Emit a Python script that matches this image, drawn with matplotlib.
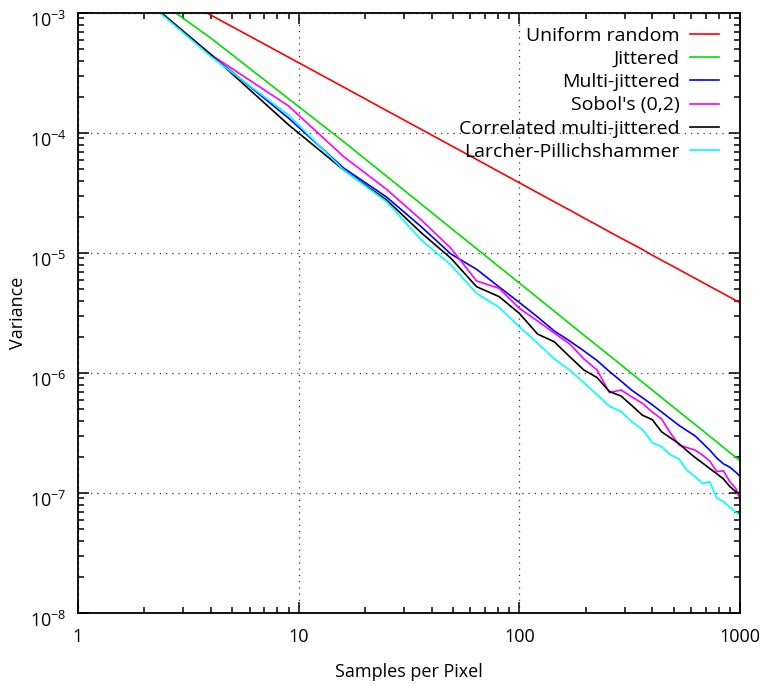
import matplotlib
matplotlib.use("Agg")
import matplotlib.pyplot as plt
from matplotlib.ticker import LogLocator, NullFormatter
from matplotlib.transforms import ScaledTranslation

plt.rcParams["font.family"] = ["Open Sans", "DejaVu Sans"]
plt.rcParams["mathtext.default"] = "regular"

# samples per pixel (perfect squares)
spp = [1, 4, 9, 16, 25, 36, 49, 64, 81, 100, 121, 144, 169, 196, 225, 256,
       289, 324, 361, 400, 441, 484, 529, 576, 625, 676, 729, 784, 841, 900,
       961, 1024]

uniform = [3.85e-3, 9.6e-4, 4.28e-4, 2.41e-4, 1.54e-4, 1.07e-4, 7.86e-5, 6.02e-5,
           4.75e-5, 3.85e-5, 3.18e-5, 2.67e-5, 2.28e-5, 1.96e-5, 1.71e-5, 1.50e-5,
           1.33e-5, 1.19e-5, 1.07e-5, 9.6e-6, 8.7e-6, 7.95e-6, 7.28e-6, 6.68e-6,
           6.16e-6, 5.70e-6, 5.28e-6, 4.91e-6, 4.58e-6, 4.28e-6, 4.01e-6, 3.76e-6]

jittered = [3.85e-3, 6.17e-4, 1.93e-4, 8.46e-5, 4.37e-5, 2.55e-5, 1.61e-5, 1.087e-5,
            7.67e-6, 5.62e-6, 4.24e-6, 3.27e-6, 2.58e-6, 2.07e-6, 1.69e-6, 1.40e-6,
            1.17e-6, 9.86e-7, 8.40e-7, 7.22e-7, 6.24e-7, 5.44e-7, 4.77e-7, 4.21e-7,
            3.73e-7, 3.32e-7, 2.97e-7, 2.67e-7, 2.40e-7, 2.17e-7, 1.97e-7, 1.80e-7]

multi_jittered = [3.85e-3, 4.5e-4, 1.33e-4, 5.1e-5, 2.93e-5, 1.65e-5, 9.8e-6, 7.32e-6,
                  5.21e-6, 3.87e-6, 2.93e-6, 2.24e-6, 1.85e-6, 1.53e-6, 1.27e-6, 1.03e-6,
                  8.56e-7, 7.16e-7, 6.23e-7, 5.44e-7, 4.74e-7, 4.15e-7, 3.66e-7, 3.30e-7,
                  3.0e-7, 2.61e-7, 2.28e-7, 1.96e-7, 1.75e-7, 1.64e-7, 1.48e-7, 1.32e-7]

sobol = [3.85e-3, 4.5e-4, 1.68e-4, 6.35e-5, 3.4e-5, 1.88e-5, 1.094e-5, 5.85e-6,
         5.08e-6, 3.46e-6, 2.71e-6, 2.15e-6, 1.75e-6, 1.31e-6, 1.06e-6, 6.86e-7,
         7.22e-7, 6.31e-7, 5.59e-7, 4.73e-7, 4.14e-7, 3.16e-7, 2.51e-7, 2.39e-7,
         2.28e-7, 2.07e-7, 1.85e-7, 1.51e-7, 1.53e-7, 1.24e-7, 1.08e-7, 7.64e-8]

cmj = [3.85e-3, 4.5e-4, 1.17e-4, 4.92e-5, 2.77e-5, 1.47e-5, 9.03e-6, 5.24e-6,
       4.33e-6, 3.14e-6, 2.11e-6, 1.82e-6, 1.37e-6, 1.06e-6, 9.16e-7, 7.01e-7,
       6.43e-7, 5.34e-7, 4.45e-7, 4.09e-7, 3.24e-7, 2.88e-7, 2.58e-7, 2.24e-7,
       1.98e-7, 1.78e-7, 1.60e-7, 1.45e-7, 1.31e-7, 1.13e-7, 1.02e-7, 9.8e-8]

larcher = [3.85e-3, 4.35e-4, 1.41e-4, 4.92e-5, 2.68e-5, 1.28e-5, 7.94e-6, 4.61e-6,
           3.52e-6, 2.43e-6, 1.77e-6, 1.31e-6, 1.06e-6, 8.3e-7, 6.6e-7, 5.28e-7,
           4.78e-7, 3.91e-7, 3.39e-7, 2.63e-7, 2.43e-7, 2.08e-7, 1.92e-7, 1.54e-7,
           1.37e-7, 1.20e-7, 1.24e-7, 9.1e-8, 8.46e-8, 7.6e-8, 6.87e-8, 6.34e-8]

fig = plt.figure(figsize=(7.6, 6.86), dpi=100)
ax = fig.add_axes([78 / 760, 73 / 686, 662 / 760, 600 / 686])

lw = 1.2
ax.plot(spp, uniform, color="#ff0000", lw=lw, label="Uniform random")
ax.plot(spp, jittered, color="#00e000", lw=lw, label="Jittered")
ax.plot(spp, multi_jittered, color="#0000ff", lw=lw, label="Multi-jittered")
ax.plot(spp, sobol, color="#ff00ff", lw=lw, label="Sobol's (0,2)")
ax.plot(spp, cmj, color="#000000", lw=lw, label="Correlated multi-jittered")
ax.plot(spp, larcher, color="#00ffff", lw=lw, label="Larcher-Pillichshammer")

ax.set_xscale("log")
ax.set_yscale("log")
ax.set_xlim(1, 1000)
ax.set_ylim(1e-8, 1e-3)

ax.xaxis.set_minor_locator(LogLocator(base=10, subs=range(2, 10), numticks=20))
ax.yaxis.set_minor_locator(LogLocator(base=10, subs=range(2, 10), numticks=20))
ax.xaxis.set_minor_formatter(NullFormatter())
ax.yaxis.set_minor_formatter(NullFormatter())
ax.set_xticks([1, 10, 100, 1000])
ax.set_xticklabels(["1", "10", "100", "1000"])
yt = [1e-8, 1e-7, 1e-6, 1e-5, 1e-4, 1e-3]
ax.set_yticks(yt)
ax.set_yticklabels([r"$10^{%d}$" % e for e in range(-8, -2)])

ax.tick_params(which="both", direction="in", top=True, right=True,
               labelsize=13, width=1.1)
ax.tick_params(which="major", length=8)
ax.tick_params(axis="x", which="major", pad=11)
ax.tick_params(axis="y", which="major", pad=8)
ax.tick_params(which="minor", length=4)
for s in ax.spines.values():
    s.set_linewidth(1.3)

# gnuplot puts the y labels a little below the tick
shift = ScaledTranslation(0, -4 / 72, fig.dpi_scale_trans)
for lab in ax.get_yticklabels():
    lab.set_transform(lab.get_transform() + shift)

ax.grid(True, which="major", color="#333333", linestyle=(0, (1, 4)), lw=0.9)

ax.set_xlabel("Samples per Pixel", fontsize=13, labelpad=12)
ax.set_ylabel("Variance", fontsize=13, labelpad=2)

ax.legend(loc="upper right", bbox_to_anchor=(1 - 6 / 662, 1 + 1 / 600),
          frameon=False, markerfirst=False, fontsize=14,
          handlelength=1.5, handletextpad=0.55, labelspacing=0.27,
          borderaxespad=0.35)

plt.savefig("out.png", dpi=100)
plt.close()
